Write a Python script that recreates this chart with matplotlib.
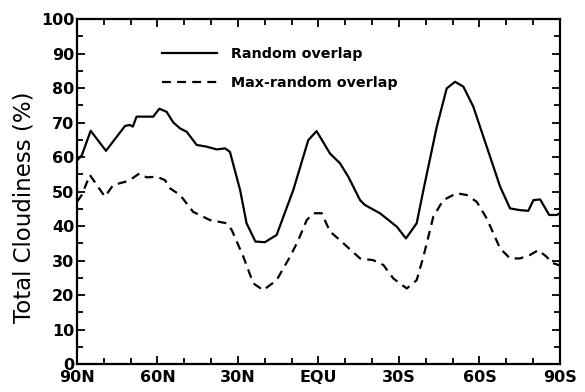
import matplotlib
matplotlib.use('Agg')
import matplotlib.pyplot as plt
from matplotlib.ticker import MultipleLocator

# latitude (positive = north) and total cloudiness (%)
lat_random = [90, 88.2, 84.9, 79.2, 72.1, 70.3, 69.2, 67.8, 61.6, 59.3, 56.6, 54.1,
              51.6, 49.1, 45.4, 41.7, 37.9, 34.8, 33.0, 29.2, 26.8, 23.5, 20.0,
              15.6, 9.4, 3.8, 0.7, -4.3, -8.0, -11.1, -15.5, -17.3, -22.9, -29.2,
              -32.6, -36.6, -39.1, -44.1, -47.8, -50.9, -54.0, -57.7, -62.7, -67.7,
              -71.4, -75.1, -78.2, -80.1, -82.6, -86.0, -88.8, -90]
val_random = [59.0, 60.5, 67.6, 61.8, 69.0, 69.3, 68.8, 71.7, 71.7, 74.0, 73.1, 70.0,
              68.3, 67.3, 63.5, 63.0, 62.2, 62.5, 61.5, 50.4, 40.8, 35.5, 35.3,
              37.4, 50.4, 64.9, 67.5, 61.0, 58.2, 54.3, 47.5, 46.1, 43.7, 39.8,
              36.4, 40.8, 50.4, 68.8, 79.9, 81.8, 80.4, 74.6, 63.0, 51.4,
              45.1, 44.6, 44.4, 47.5, 47.7, 43.2, 43.2, 43.7]

lat_maxran = [90, 88.2, 85.2, 79.6, 76.5, 72.1, 70.3, 66.8, 64.0, 60.3, 57.2, 55.3,
              51.6, 46.7, 40.4, 34.2, 32.3, 28.0, 24.3, 20.6, 15.6, 10.6, 7.5,
              4.4, 1.9, -1.2, -4.3, -8.0, -15.5, -20.4, -24.2, -27.9, -32.9, -36.6,
              -39.1, -42.8, -46.5, -51.5, -55.2, -59.0, -62.7, -67.7, -71.4, -75.1,
              -78.8, -81.9, -85.0, -86.9, -89.4, -90]
val_maxran = [47.0, 49.0, 54.8, 48.5, 51.9, 52.8, 53.3, 55.2, 54.1, 54.3, 53.3, 50.9,
              49.0, 44.1, 41.7, 40.8, 38.8, 31.1, 23.4, 21.4, 24.3, 31.1, 35.9,
              41.7, 43.7, 43.7, 38.4, 35.9, 30.6, 30.1, 28.7, 24.8, 21.9, 24.3,
              31.1, 42.7, 47.5, 49.5, 49.0, 47.0, 42.2, 33.5, 30.6, 30.6,
              31.6, 33.0, 31.1, 29.4, 28.7, 28.7]

xticks = [90, 60, 30, 0, -30, -60, -90]
xlabels = ['90N', '60N', '30N', 'EQU', '30S', '60S', '90S']

fig = plt.figure(figsize=(5.85, 3.92), dpi=100)
ax = fig.add_axes([0.1316, 0.0714, 0.8256, 0.8801])

ax.plot(lat_random, val_random, color='black', lw=1.6, label='Random overlap')
ax.plot(lat_maxran, val_maxran, color='black', lw=1.6, dashes=(4, 2.8),
        label='Max-random overlap')

ax.set_xlim(90, -90)
ax.set_ylim(0, 100)
ax.set_xticks(xticks)
ax.set_xticklabels(xlabels)
ax.xaxis.set_minor_locator(MultipleLocator(10))
ax.yaxis.set_major_locator(MultipleLocator(10))
ax.yaxis.set_minor_locator(MultipleLocator(5))
ax.tick_params(which='both', direction='in', top=True, right=True, width=1.3,
               labelsize=11.5, pad=2)
ax.tick_params(axis='x', which='major', pad=4)
ax.tick_params(which='major', length=6)
ax.tick_params(which='minor', length=4)
for lab in ax.get_xticklabels() + ax.get_yticklabels():
    lab.set_fontweight('bold')
for sp in ax.spines.values():
    sp.set_linewidth(1.6)

ax.set_ylabel('Total Cloudiness (%)', fontsize=16.5)
ax.yaxis.set_label_coords(-0.085, 0.455)

leg = ax.legend(loc='upper left', bbox_to_anchor=(0.15, 0.955), frameon=False,
                handlelength=3.8, handletextpad=1.0, labelspacing=1.0,
                prop={'weight': 'bold', 'size': 10.3})

fig.savefig('out.png', dpi=100)
